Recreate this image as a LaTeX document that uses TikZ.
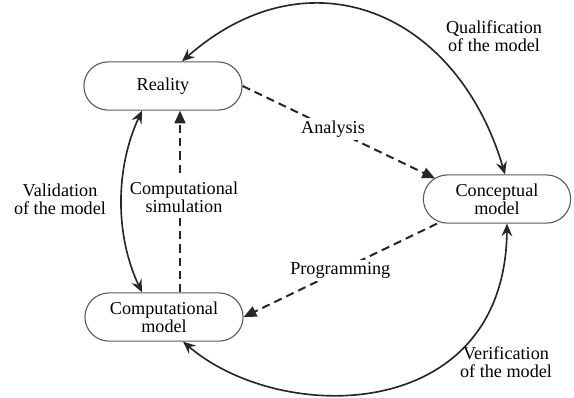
\documentclass[tikz,border=0pt]{standalone}
\usepackage{fontspec}
\setmainfont{Liberation Serif}
\usetikzlibrary{arrows.meta,shapes.misc,calc}

\begin{document}
\begin{tikzpicture}[x=0.55pt,y=-0.55pt,
        stage/.style={rounded rectangle, draw=black!65, line width=0.6pt, minimum width=89pt, minimum height=26.5pt, inner sep=1pt, align=center, font=\fontsize{10}{10}\selectfont},
        lbl/.style={align=center, inner sep=1.5pt, font=\fontsize{10}{10}\selectfont},
        roundtrip/.style={draw=black!85, line width=0.9pt, {Stealth[length=7pt,width=6pt,inset=2.5pt]}-{Stealth[length=7pt,width=6pt,inset=2.5pt]}},
        flow/.style={draw=black!85, line width=1.1pt, dash pattern=on 4.5pt off 2.8pt, -{Triangle[length=7pt,width=6pt]}}]
        \useasboundingbox (0,0) rectangle (574,397);

        % The three stages
        \node[stage] (real) at (163,86) {Reality};
        \node[stage, minimum width=83pt] (conc) at (497,199) {Conceptual\\model};
        \node[stage] (comp) at (164,317) {Computational\\model};

        % Qualification over the top
        \draw[roundtrip] ($(conc.north)+(8,0)$) .. controls +(-48,-163) and +(127,-112) .. ($(real.north)+(19,0)$);
        \node[lbl] (qual) at (494,36) {Qualification\\of the model};

        % Verification under the bottom
        \draw[roundtrip] ($(comp.south)+(19,0)$) .. controls +(99,84.5) and +(-2,200) .. ($(conc.south)+(10,0)$);
        \node[lbl] (veri) at (506,362) {Verification\\of the model};

        % Validation on the left
        \draw[roundtrip] ($(real.south)+(-21,0)$) .. controls +(-27,58) and +(-27,-57) .. ($(comp.north)+(-22,0)$);
        \node[lbl] (vali) at (60,199) {Validation\\of the model};

        % Dashed flows between the stages
        \draw[flow] (real.east) -- node[lbl, fill=white, pos=0.47] (ana) {Analysis} ($(conc.north)+(-62,4)$);
        \draw[flow] ($(conc.south)+(-60,0)$) -- node[lbl, fill=white] (prog) {Programming} (comp.east);
        \draw[flow] ($(comp.north)+(16,0)$) -- node[lbl, fill=white, pos=0.525, xshift=2.2pt, inner sep=2.5pt] (sim) {Computational\\simulation} ($(real.south)+(17,0)$);
    \end{tikzpicture}
\end{document}
